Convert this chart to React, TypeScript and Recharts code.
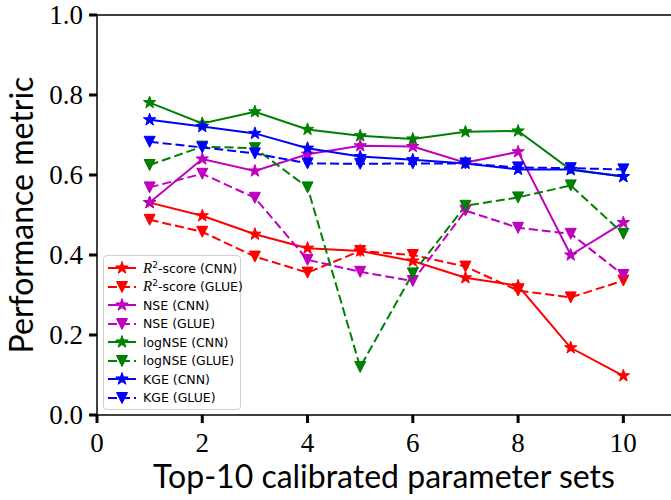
import { LineChart, Line, XAxis, YAxis, ReferenceLine, Label } from 'recharts';

// top-10 calibrated parameter sets
const sets = [1, 2, 3, 4, 5, 6, 7, 8, 9, 10];

const r2Cnn = [0.531, 0.498, 0.452, 0.417, 0.41, 0.385, 0.343, 0.323, 0.168, 0.098];
const r2Glue = [0.488, 0.458, 0.396, 0.356, 0.41, 0.4, 0.371, 0.311, 0.294, 0.336];
const nseCnn = [0.531, 0.64, 0.61, 0.652, 0.673, 0.671, 0.631, 0.658, 0.4, 0.481];
const nseGlue = [0.569, 0.603, 0.543, 0.388, 0.358, 0.335, 0.511, 0.468, 0.453, 0.35];
const logNseCnn = [0.781, 0.729, 0.758, 0.714, 0.698, 0.69, 0.708, 0.71, 0.613, 0.596];
const logNseGlue = [0.625, 0.671, 0.667, 0.569, 0.12, 0.354, 0.523, 0.544, 0.574, 0.453];
const kgeCnn = [0.738, 0.721, 0.704, 0.667, 0.646, 0.638, 0.629, 0.614, 0.614, 0.596];
const kgeGlue = [0.683, 0.669, 0.654, 0.629, 0.628, 0.629, 0.629, 0.619, 0.617, 0.614];

const xTicks = [0, 2, 4, 6, 8, 10];
const yTicks = [0, 0.2, 0.4, 0.6, 0.8, 1.0];

type Series = { key: string; metric: string; method: string; color: string; dashed: boolean; values: number[] };

const series: Series[] = [
  { key: 'r2Cnn', metric: 'R2', method: 'CNN', color: '#ff0000', dashed: false, values: r2Cnn },
  { key: 'r2Glue', metric: 'R2', method: 'GLUE', color: '#ff0000', dashed: true, values: r2Glue },
  { key: 'nseCnn', metric: 'NSE', method: 'CNN', color: '#bf00bf', dashed: false, values: nseCnn },
  { key: 'nseGlue', metric: 'NSE', method: 'GLUE', color: '#bf00bf', dashed: true, values: nseGlue },
  { key: 'logNseCnn', metric: 'logNSE', method: 'CNN', color: '#008000', dashed: false, values: logNseCnn },
  { key: 'logNseGlue', metric: 'logNSE', method: 'GLUE', color: '#008000', dashed: true, values: logNseGlue },
  { key: 'kgeCnn', metric: 'KGE', method: 'CNN', color: '#0000ff', dashed: false, values: kgeCnn },
  { key: 'kgeGlue', metric: 'KGE', method: 'GLUE', color: '#0000ff', dashed: true, values: kgeGlue },
];

const data = sets.map((x, i) => {
  const row: Record<string, number> = { x };
  series.forEach((s) => (row[s.key] = s.values[i]));
  return row;
});

function starPath(cx: number, cy: number, R: number) {
  const pts: string[] = [];
  for (let i = 0; i < 10; i++) {
    const r = i % 2 === 0 ? R : R * 0.4;
    const a = -Math.PI / 2 + (i * Math.PI) / 5;
    pts.push(`${cx + r * Math.cos(a)},${cy + r * Math.sin(a)}`);
  }
  return 'M' + pts.join('L') + 'Z';
}

function triPath(cx: number, cy: number, s: number) {
  return `M${cx - s},${cy - s}L${cx + s},${cy - s}L${cx},${cy + s}Z`;
}

function Marker({ cx, cy, color, glue }: { cx: number; cy: number; color: string; glue: boolean }) {
  return <path d={glue ? triPath(cx, cy, 5.5) : starPath(cx, cy, 6.5)} fill={color} stroke={color} strokeWidth={1} />;
}

const serif = 'Liberation Serif';
const sans = 'Lato';

const renderXTick = (props: any) => {
  const { x, y, payload } = props;
  return (
    <g key={`xt-${payload.value}`}>
      <text x={x} y={y + 19} textAnchor="middle" fontFamily={serif} fontSize={27} fill="#000">
        {payload.value}
      </text>
    </g>
  );
};

const renderYTick = (props: any) => {
  const { x, y, payload } = props;
  return (
    <g key={`yt-${payload.value}`}>
      <text x={x} y={y + 9} textAnchor="end" fontFamily={serif} fontSize={27} fill="#000">
        {Number(payload.value).toFixed(1)}
      </text>
    </g>
  );
};

function LegendLabel({ s }: { s: Series }) {
  if (s.metric === 'R2') {
    return (
      <span>
        <i style={{ fontFamily: serif, fontSize: 15 }}>R</i>
        <sup style={{ fontSize: 9 }}>2</sup>-score ({s.method})
      </span>
    );
  }
  return (
    <span>
      {s.metric} ({s.method})
    </span>
  );
}

export default function App() {
  return (
    <div
      style={{
        position: 'absolute',
        left: 0,
        top: 0,
        width: 671,
        height: 500,
        overflow: 'hidden',
        background: '#fff',
      }}
    >
      <LineChart width={700} height={500} data={data} margin={{ top: 15, right: 24, bottom: 0, left: 0 }}>
        <XAxis
          dataKey="x"
          type="number"
          domain={[0, 11]}
          ticks={xTicks}
          height={85}
          tick={renderXTick}
          tickSize={8}
          tickMargin={10}
          axisLine={{ stroke: '#000', strokeWidth: 1.5 }}
          tickLine={{ stroke: '#000', strokeWidth: 3 }}
        >
          <Label
            content={() => (
              <text x={384} y={488} textAnchor="middle" fontFamily={sans} fontSize={32} fill="#000">
                Top-10 calibrated parameter sets
              </text>
            )}
          />
        </XAxis>
        <YAxis
          type="number"
          domain={[0, 1]}
          ticks={yTicks}
          width={97}
          tick={renderYTick}
          tickSize={8}
          tickMargin={6}
          axisLine={{ stroke: '#000', strokeWidth: 1.5 }}
          tickLine={{ stroke: '#000', strokeWidth: 3 }}
        >
          <Label
            content={() => (
              <text
                x={33}
                y={215}
                transform="rotate(-90, 33, 215)"
                textAnchor="middle"
                fontFamily={sans}
                fontSize={32}
                fill="#000"
              >
                Performance metric
              </text>
            )}
          />
        </YAxis>
        <ReferenceLine y={1} stroke="#000" strokeWidth={1.5} ifOverflow="extendDomain" />
        {series.map((s) => (
          <Line
            key={s.key}
            dataKey={s.key}
            type="linear"
            stroke={s.color}
            strokeWidth={2}
            strokeDasharray={s.dashed ? '9 4' : undefined}
            isAnimationActive={false}
            activeDot={false}
            dot={(p: any) => (
              <Marker key={`${s.key}-${p.index}`} cx={p.cx} cy={p.cy} color={s.color} glue={s.dashed} />
            )}
          />
        ))}
      </LineChart>
      <div
        style={{
          position: 'absolute',
          left: 103,
          top: 255,
          width: 138,
          height: 155,
          border: '1px solid #d0d0d0',
          borderRadius: 4,
          background: 'rgba(255,255,255,0.8)',
          boxSizing: 'border-box',
          paddingTop: 3,
          fontFamily: 'DejaVu Sans',
          fontSize: 12.5,
          color: '#000',
          whiteSpace: 'nowrap',
        }}
      >
        {series.map((s) => (
          <div key={s.key} style={{ display: 'flex', alignItems: 'center', height: 18.5 }}>
            <svg width={36} height={18} style={{ flex: 'none', marginLeft: 3 }}>
              <line x1={1} y1={9} x2={29} y2={9} stroke={s.color} strokeWidth={2} strokeDasharray={s.dashed ? '9 4' : undefined} />
              <Marker cx={15} cy={9} color={s.color} glue={s.dashed} />
            </svg>
            <LegendLabel s={s} />
          </div>
        ))}
      </div>
    </div>
  );
}
